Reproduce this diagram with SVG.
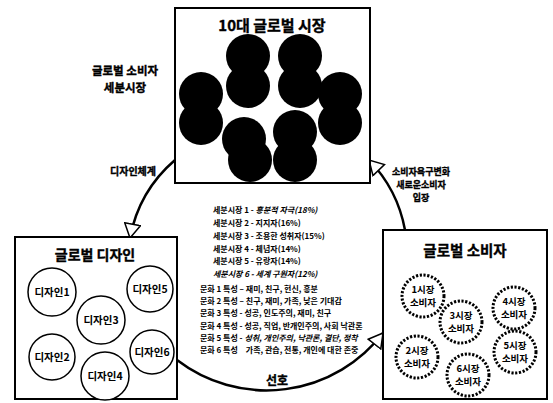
<svg xmlns="http://www.w3.org/2000/svg" width="553" height="403" viewBox="0 0 553 403">
<style>
text{font-family:"Noto Sans CJK KR","Noto Sans",sans-serif;font-weight:700;fill:#000}
.box{fill:#fff;stroke:#000;stroke-width:2}
.blob{fill:#000}
.dc{fill:#fff;stroke:#000;stroke-width:1.5}
.cc{fill:#fff;stroke:#000;stroke-width:3;stroke-dasharray:2.2 1.6}
.conn{fill:none;stroke:#000;stroke-width:2.5;marker-end:url(#arr)}
.lbl{font-size:10.5px;text-anchor:middle}
.cl{font-size:9.5px;text-anchor:middle}
.ls{font-size:8px}
.it{font-style:italic}
.hv{stroke:#000;stroke-width:0.35}
</style>
<defs>
<marker id="arr" markerUnits="userSpaceOnUse" markerWidth="16" markerHeight="18" viewBox="0 0 16 18" refX="15" refY="9" orient="auto">
<path d="M1,1 L15,9 L1,17 Z" fill="#fff" stroke="#000" stroke-width="1.5"/>
</marker>
</defs>
<rect width="553" height="403" fill="#fff"/>

<g id="connectors">
<path class="conn" d="M175,160 A136,136 0 0 0 130,238"/>
<path class="conn" d="M177,360 A147,147 0 0 0 383,333"/>
<path class="conn" d="M405,230 A136,136 0 0 0 369,160"/>
</g>

<g id="market10">
<rect class="box" x="175" y="8" width="195" height="175"/>
<text class="hv" x="272" y="31" font-size="15" text-anchor="middle">10대 글로벌 시장</text>
<g class="blob">
<circle cx="201" cy="94" r="22"/><circle cx="201" cy="123" r="22"/>
<circle cx="248" cy="56" r="22"/><circle cx="248" cy="86" r="22"/>
<circle cx="300" cy="56" r="22"/><circle cx="300" cy="86" r="22"/>
<circle cx="340" cy="94" r="22"/><circle cx="340" cy="123" r="22"/>
<circle cx="244" cy="139" r="22"/><circle cx="250" cy="160" r="22"/>
<circle cx="295" cy="132" r="22"/><circle cx="295" cy="160" r="22"/>
</g>
</g>

<g id="label-segment">
<text class="hv" x="125" y="75" font-size="11.5" text-anchor="middle">글로벌 소비자</text>
<text class="hv" x="125" y="92" font-size="11.5" text-anchor="middle">세분시장</text>
</g>
<g id="label-design">
<text class="hv" x="133" y="175" font-size="10" text-anchor="middle">디자인체계</text>
</g>
<g id="label-change">
<text class="hv" x="421" y="175" font-size="9" text-anchor="middle">소비자욕구변화</text>
<text class="hv" x="421" y="188" font-size="9" text-anchor="middle">새로운소비자</text>
<text class="hv" x="421" y="201" font-size="9" text-anchor="middle">입장</text>
</g>
<g id="label-pref">
<text class="hv" x="277" y="385" font-size="12" text-anchor="middle">선호</text>
</g>

<g id="global-design">
<rect class="box" x="15" y="237" width="162" height="162"/>
<text class="hv" x="95" y="260" font-size="14" text-anchor="middle">글로벌 디자인</text>
<g id="d1"><circle class="dc" cx="52" cy="292" r="24"/><text class="lbl" x="52" y="296">디자인1</text></g>
<g id="d5"><circle class="dc" cx="150" cy="289" r="23"/><text class="lbl" x="150" y="293">디자인5</text></g>
<g id="d3"><circle class="dc" cx="101" cy="320" r="24"/><text class="lbl" x="101" y="324">디자인3</text></g>
<g id="d2"><circle class="dc" cx="52" cy="357" r="23"/><text class="lbl" x="52" y="361">디자인2</text></g>
<g id="d4"><circle class="dc" cx="105" cy="376" r="24"/><text class="lbl" x="105" y="380">디자인4</text></g>
<g id="d6"><circle class="dc" cx="152" cy="352" r="22"/><text class="lbl" x="152" y="356">디자인6</text></g>
</g>

<g id="global-consumer">
<rect class="box" x="383" y="230" width="164" height="169"/>
<text class="hv" x="465" y="256" font-size="14.5" text-anchor="middle">글로벌 소비자</text>
<g id="c1"><circle class="cc" cx="423" cy="296" r="21"/><text class="cl" x="423" y="293">1시장</text><text class="cl" x="423" y="306">소비자</text></g>
<g id="c3"><circle class="cc" cx="461" cy="322" r="21"/><text class="cl" x="461" y="319">3시장</text><text class="cl" x="461" y="332">소비자</text></g>
<g id="c4"><circle class="cc" cx="514" cy="308" r="21"/><text class="cl" x="514" y="305">4시장</text><text class="cl" x="514" y="318">소비자</text></g>
<g id="c2"><circle class="cc" cx="417" cy="357" r="21"/><text class="cl" x="417" y="354">2시장</text><text class="cl" x="417" y="367">소비자</text></g>
<g id="c6"><circle class="cc" cx="468" cy="375" r="21"/><text class="cl" x="468" y="372">6시장</text><text class="cl" x="468" y="385">소비자</text></g>
<g id="c5"><circle class="cc" cx="515" cy="352" r="21"/><text class="cl" x="515" y="349">5시장</text><text class="cl" x="515" y="362">소비자</text></g>
</g>

<g id="segment-list">
<text class="ls" x="213" y="213">세분시장 1 - <tspan class="it">흥분적 자극(18%)</tspan></text>
<text class="ls" x="213" y="226">세분시장 2 - 지지자(16%)</text>
<text class="ls" x="213" y="239">세분시장 3 - 조용한 성취자(15%)</text>
<text class="ls" x="213" y="252">세분시장 4 - 체념자(14%)</text>
<text class="ls" x="213" y="264">세분시장 5 - 유랑자(14%)</text>
<text class="ls it" x="213" y="277">세분시장 6 - 세계 구원자(12%)</text>
<text class="ls" x="200" y="292">문화 1 특성 – 재미, 친구, 헌신, 흥분</text>
<text class="ls" x="200" y="304">문화 2 특성 – 친구, 재미, 가족, 낮은 기대감</text>
<text class="ls" x="200" y="316">문화 3 특성 - 성공, 인도주의, 재미, 친구</text>
<text class="ls" x="200" y="329">문화 4 특성 - 성공, 직업, 반개인주의, 사회 낙관론</text>
<text class="ls" x="200" y="341">문화 5 특성 - <tspan class="it">성취, 개인주의, 낙관론, 결단, 정착</tspan></text>
<text class="ls" x="200" y="353">문화 6 특성<tspan dx="8">가족, 관습, 전통, 개인에 대한 존중</tspan></text>
</g>
</svg>
